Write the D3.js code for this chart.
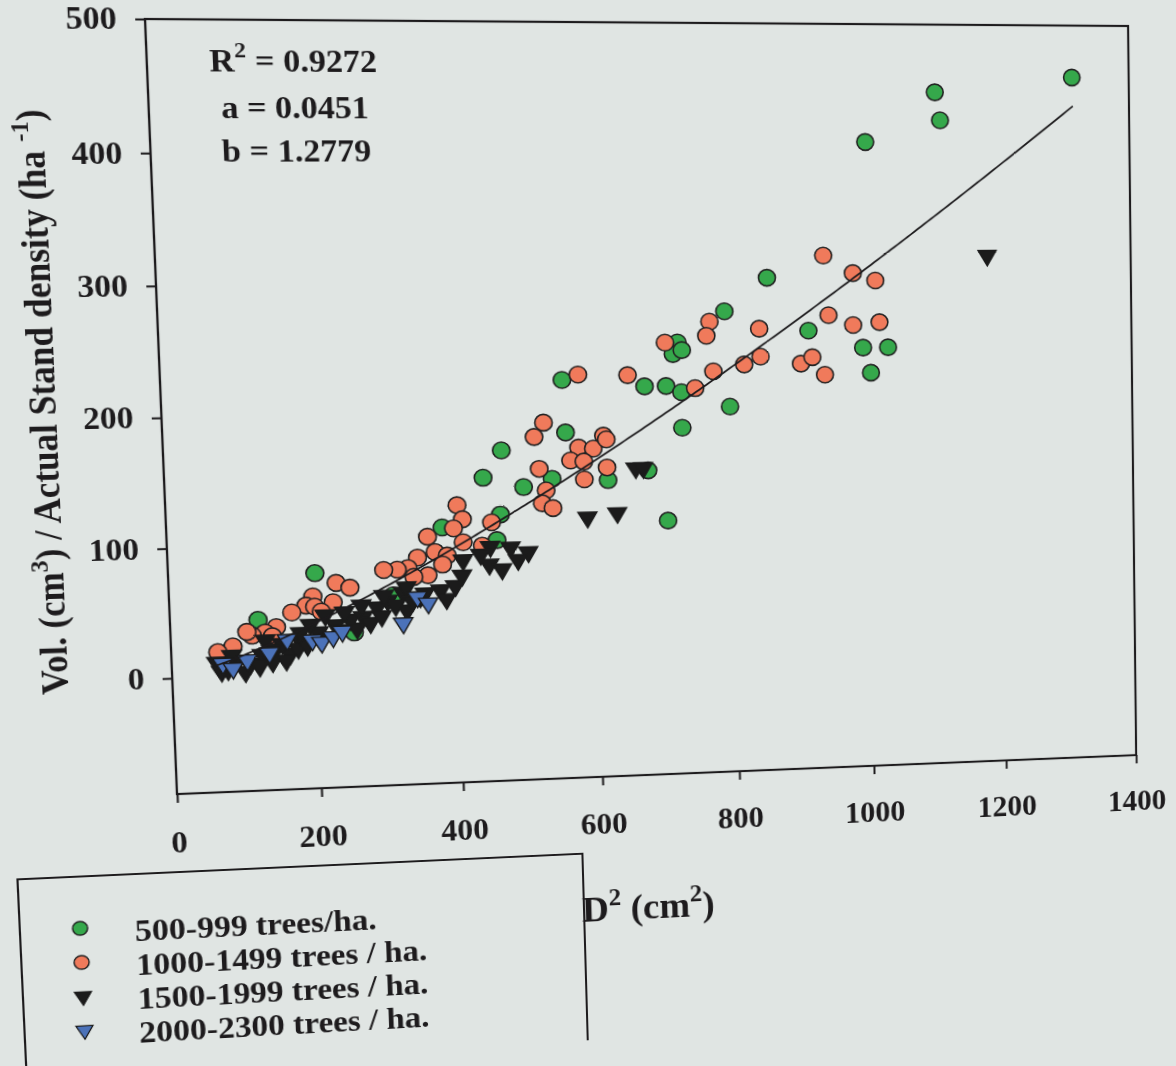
<!DOCTYPE html>
<html lang="en">
<head>
<meta charset="UTF-8">
<title>Vol / stand density vs D2</title>
<script src="https://d3js.org/d3.v7.min.js"></script>
<style>
  html, body { margin: 0; padding: 0; background: #e0e5e3; overflow: hidden; }
  svg { display: block; overflow: visible; transform-origin: 0 0; }
  text { font-family: "Liberation Serif", "Times New Roman", serif; font-weight: bold; fill: #1d1b1d; }
</style>
</head>
<body>
<svg width="1176" height="1066"></svg>
<script>
// D2 (cm2) vs Vol / actual stand density, four density classes
const trees500 = [[1314,459],[1109,447],[1116,425],[1005,408],[857,302],[794,276],[916,260],[996,246],[1033,246],[1007,226],
  [725,252],[718,243],[731,246],[676,218],[707,218],[729,213],[799,201],[729,185],[558,224],[561,183],[469,170],[442,149],
  [499,141],[540,147],[620,145],[678,152],[705,112],[382,111],[465,120],[459,100],[202,78],[121,43],[254,31],[310,59],[75,18]];

const trees1000 = [[940,319],[983,305],[1016,299],[946,272],[982,264],[1021,266],[904,234],[921,239],[939,225],
  [581,228],[652,227],[707,252],[772,268],[767,257],[844,262],[776,229],[749,216],[821,234],[845,240],[615,180],
  [530,191],[516,180],[579,171],[600,170],[619,177],[567,161],[586,160],[522,155],[619,155],[586,146],[531,138],[525,128],[540,124],
  [404,128],[411,117],[398,110],[452,114],[361,104],[411,99],[438,96],[371,92],[388,89],[346,88],[332,80],[317,79],[298,79],[360,74],[340,73],[381,82],
  [231,70],[250,66],[198,60],[188,53],[200,52],[226,55],[168,48],[209,48],[146,37],[130,33],[112,31],[140,30],[105,34],[85,23],[64,19]];

const trees1500 = [[1183,318],[589,116],[632,119],[660,154],[671,154],[478,94],[503,90],[447,81],[465,77],[410,85],[408,73],[449,95],
  [435,89],[488,84],
  [62,11],[77,5],[91,12],[108,9],[125,16],[143,19],[164,16],[153,24],[178,26],[204,32],[228,37],[249,41],[267,43],[287,50],
  [302,55],[324,61],[329,47],[348,57],[377,62],[329,65],[214,45],[193,38],[130,27],
  [68,4],[101,3],[121,7],[139,10],[158,11],[175,20],[188,22],[206,26],[237,33],[258,34],[277,38],[293,43],[313,51],
  [337,54],[355,60],[385,55],[398,65],[83,16],[179,32],[241,47],[297,59],[265,52],[138,19]];

const trees2000 = [[70,10],[84,6],[104,12],[135,17],[160,27],[195,26],[208,24],[224,28],[237,32],[323,37],[344,57],[359,52]];

const legendLabels = ["500-999 trees/ha.", "1000-1499 trees / ha.", "1500-1999 trees / ha.", "2000-2300 trees / ha."];
const xTicks = [0, 200, 400, 600, 800, 1000, 1200, 1400];
const yTicks = [0, 100, 200, 300, 400, 500];
const fitR2 = "0.9272", fitA = 0.0451, fitB = 1.2779;
const fitRange = [60, 1315];

const svg = d3.select("svg");
const plotL = 177, plotT = 19, plotR = 1136, plotB = 794;

const x = d3.scaleLinear().domain([0, 1400]).range([plotL, plotR]);
const y = d3.scaleLinear().domain([-90, 500]).range([plotB, plotT]);

const ink = "#1d1b1d";

// axes
const yAxis = svg.append("g")
    .attr("transform", `translate(${plotL},0)`)
    .call(d3.axisLeft(y).tickValues(yTicks).tickFormat(d3.format("d"))
      .tickSize(9).tickSizeOuter(0).tickPadding(17));
const xAxis = svg.append("g")
    .attr("transform", `translate(0,${plotB})`)
    .call(d3.axisBottom(x).tickValues(xTicks).tickFormat(d3.format("d"))
      .tickSize(9).tickSizeOuter(0).tickPadding(29));
[xAxis, yAxis].forEach(g => {
  g.attr("color", ink).attr("font-family", null).attr("font-size", null);
  g.select(".domain").remove();
  g.selectAll("line").attr("stroke-width", 2);
  g.selectAll("text").style("font-size", "31px");
});

svg.append("rect")
    .attr("x", plotL).attr("y", plotT)
    .attr("width", plotR - plotL).attr("height", plotB - plotT)
    .attr("fill", "none").attr("stroke", ink).attr("stroke-width", 2.2);

// points
const series = [
  { data: trees500, shape: "circle", fill: "#35a84b" },
  { data: trees1000, shape: "circle", fill: "#f07a5b" },
  { data: trees1500, shape: "tri", fill: "#1b1b1b" },
  { data: trees2000, shape: "tri", fill: "#4b72b9" }
];
const triPath = d3.symbol(d3.symbolTriangle, 150)();

series.forEach(s => {
  const g = svg.append("g");
  if (s.shape === "circle") {
    g.selectAll("circle").data(s.data).join("circle")
        .attr("cx", d => x(d[0])).attr("cy", d => y(d[1])).attr("r", 8.5)
        .attr("fill", s.fill).attr("stroke", "#222").attr("stroke-width", 1.6);
  } else {
    g.selectAll("path").data(s.data).join("path")
        .attr("d", triPath)
        .attr("transform", d => `translate(${x(d[0])},${y(d[1])}) rotate(180)`)
        .attr("fill", s.fill).attr("stroke", "#1b1b1b").attr("stroke-width", 1.4);
  }
});

// fitted curve  V = a * D2^b
const fitLine = d3.line().x(d => x(d)).y(d => y(fitA * Math.pow(d, fitB)));
svg.append("path")
    .datum(d3.range(fitRange[0], fitRange[1] + 1, 5))
    .attr("d", fitLine)
    .attr("fill", "none").attr("stroke", ink).attr("stroke-width", 1.8);

// fit statistics
const stats = svg.append("g").style("font-size", "32px").attr("text-anchor", "middle");
const r2 = stats.append("text").attr("x", 313).attr("y", 70);
r2.append("tspan").text("R");
r2.append("tspan").attr("dy", -14).style("font-size", "22px").text("2");
r2.append("tspan").attr("dy", 14).text(" = " + fitR2);
stats.append("text").attr("x", 313).attr("y", 116).text("a = " + fitA.toFixed(4));
stats.append("text").attr("x", 313).attr("y", 159).text("b = " + fitB.toFixed(4));

// axis titles
const yt = svg.append("text")
    .attr("transform", "translate(80,398) rotate(-90)")
    .attr("text-anchor", "middle").style("font-size", "35px");
yt.append("tspan").text("Vol. (cm");
yt.append("tspan").attr("dy", -14).style("font-size", "24px").text("3");
yt.append("tspan").attr("dy", 14).text(") / Actual Stand density (ha ");
yt.append("tspan").attr("dy", -14).style("font-size", "24px").text("-1");
yt.append("tspan").attr("dy", 14).text(")");

const xt = svg.append("text").attr("x", 564).attr("y", 946).style("font-size", "37px");
xt.append("tspan").text("D");
xt.append("tspan").attr("dy", -16).style("font-size", "25px").text("2");
xt.append("tspan").attr("dy", 16).text(" (cm");
xt.append("tspan").attr("dy", -16).style("font-size", "25px").text("2");
xt.append("tspan").attr("dy", 16).text(")");

// legend
svg.append("path")
    .attr("d", "M25,1110 V874 H566 V1072")
    .attr("fill", "none").attr("stroke", ink).attr("stroke-width", 2);
const legend = svg.append("g");
series.forEach((s, i) => {
  const cy = 927 + i * 35;
  if (s.shape === "circle") {
    legend.append("circle").attr("cx", 81).attr("cy", cy).attr("r", 7)
        .attr("fill", s.fill).attr("stroke", "#222").attr("stroke-width", 1.4);
  } else {
    legend.append("path").attr("d", d3.symbol(d3.symbolTriangle, 110)())
        .attr("transform", `translate(81,${cy}) rotate(180)`)
        .attr("fill", s.fill).attr("stroke", "#1b1b1b").attr("stroke-width", 1.2);
  }
  legend.append("text").attr("x", 132).attr("y", cy + 16)
      .style("font-size", "32px").text(legendLabels[i]);
});

// the source is a photo of a printed page: map the flat plot frame onto the photographed quad
const screenQuad = [[145, 19], [1128, 26], [1136, 755], [177, 794]];
function squareToQuad(q) {
  const [[x0, y0], [x1, y1], [x2, y2], [x3, y3]] = q;
  const dx1 = x1 - x2, dx2 = x3 - x2, dx3 = x0 - x1 + x2 - x3;
  const dy1 = y1 - y2, dy2 = y3 - y2, dy3 = y0 - y1 + y2 - y3;
  const den = dx1 * dy2 - dx2 * dy1;
  const g = (dx3 * dy2 - dx2 * dy3) / den;
  const h = (dx1 * dy3 - dx3 * dy1) / den;
  return [[x1 - x0 + g * x1, x3 - x0 + h * x3, x0],
          [y1 - y0 + g * y1, y3 - y0 + h * y3, y0],
          [g, h, 1]];
}
const S = squareToQuad(screenQuad);
const pw = plotR - plotL, ph = plotB - plotT;
const N = [[1 / pw, 0, -plotL / pw], [0, 1 / ph, -plotT / ph], [0, 0, 1]];
const M = S.map(row => [0, 1, 2].map(j => row[0] * N[0][j] + row[1] * N[1][j] + row[2] * N[2][j]));
svg.style("transform", `matrix3d(${M[0][0]},${M[1][0]},0,${M[2][0]},${M[0][1]},${M[1][1]},0,${M[2][1]},0,0,1,0,${M[0][2]},${M[1][2]},0,${M[2][2]})`);
</script>
</body>
</html>
